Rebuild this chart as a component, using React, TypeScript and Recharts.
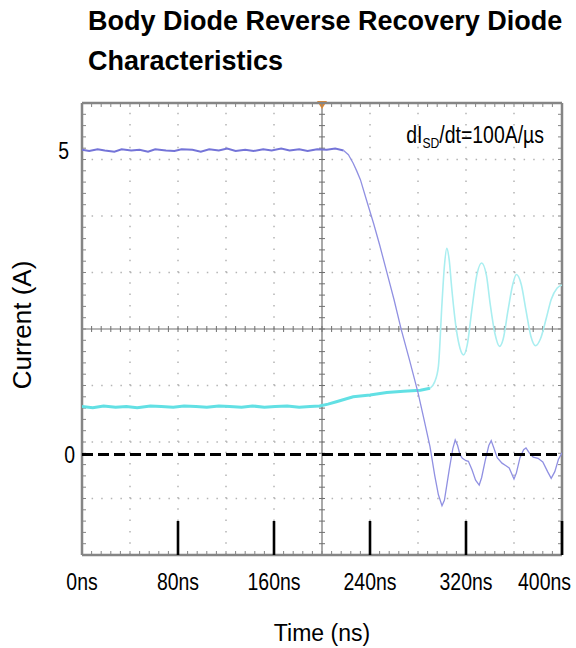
import React from 'react';
import { ComposedChart, Line, XAxis, YAxis, ReferenceLine } from 'recharts';

// ---- data (time in ns, current in A) ----
const timeTicks = [0, 80, 160, 240, 320, 400];
const currentTicks = [0, 5];
const currentDomain: [number, number] = [-1.65, 5.78];

// oscilloscope screen: 10 horizontal divisions (40 ns each), 8 vertical divisions
const timeDivisions = [0, 40, 80, 120, 160, 200, 240, 280, 320, 360, 400];
const verticalDivisionCount = 8;
const currentDivisions = Array.from(
  { length: verticalDivisionCount + 1 },
  (_, k) => currentDomain[0] + (k * (currentDomain[1] - currentDomain[0])) / verticalDivisionCount
);

const diodeCurrentFlat: [number, number][] = [
  [0, 5.01], [6, 4.99], [13, 5.02], [19, 5.0], [27, 4.98], [33, 5.02], [41, 5.0], [48, 5.01],
  [55, 4.98], [61, 5.02], [70, 5.0], [77, 4.99], [83, 5.02], [92, 5.01], [99, 4.98], [106, 5.02],
  [114, 5.0], [121, 5.03], [128, 4.99], [136, 5.01], [143, 4.99], [151, 5.02], [158, 5.0],
  [166, 5.03], [173, 5.0], [181, 5.02], [188, 4.99], [196, 5.02], [204, 5.01], [211, 5.03],
  [218, 5.0],
];
const diodeCurrentFall: [number, number][] = [
  [218, 5.0], [222, 4.93], [226, 4.79], [229, 4.66], [232, 4.52], [237, 4.19], [243, 3.8],
  [248, 3.45], [254, 3.0], [260, 2.55], [266, 2.06], [273, 1.55], [280, 1.02], [285, 0.58],
  [290, 0.13], [294, -0.35], [297, -0.66], [300, -0.84], [302, -0.75], [304, -0.5], [306, -0.25],
  [309, 0.1], [311, 0.24], [313, 0.15], [315, 0.0], [317, -0.06], [320, -0.1], [322, -0.11],
  [325, -0.25], [328, -0.42], [331, -0.5], [333, -0.38], [336, -0.1], [339, 0.15], [341, 0.23],
  [343, 0.12], [346, -0.05], [350, -0.14], [353, -0.18], [356, -0.22], [360, -0.4], [362, -0.3],
  [365, -0.05], [368, 0.08], [370, 0.11], [373, 0.02], [376, -0.04], [380, -0.06], [384, -0.12],
  [388, -0.28], [391, -0.39], [394, -0.28], [397, -0.08], [400, 0.03],
];
const cyanFlat: [number, number][] = [
  [0, 0.79], [9, 0.77], [18, 0.8], [28, 0.78], [37, 0.79], [46, 0.77], [57, 0.8], [66, 0.79],
  [76, 0.78], [85, 0.8], [95, 0.79], [104, 0.78], [114, 0.8], [123, 0.79], [133, 0.78],
  [142, 0.8], [152, 0.78], [161, 0.79], [171, 0.8], [181, 0.78], [190, 0.79], [198, 0.8],
  [205, 0.83], [212, 0.87], [219, 0.91], [226, 0.95], [240, 0.98], [254, 1.02], [268, 1.04],
  [282, 1.06], [290, 1.09],
];
const cyanRing: [number, number][] = [
  [290, 1.09], [294, 1.2], [297, 1.45], [300, 2.49], [302, 3.1], [304, 3.39], [306, 3.2],
  [308, 2.76], [312, 2.05], [315, 1.75], [318, 1.64], [321, 1.8], [325, 2.4], [329, 2.95],
  [333, 3.15], [337, 2.95], [340, 2.5], [344, 2.0], [348, 1.78], [351, 1.9], [355, 2.37],
  [359, 2.8], [362, 2.96], [366, 2.8], [370, 2.37], [374, 1.95], [378, 1.79], [382, 1.9],
  [387, 2.25], [391, 2.55], [396, 2.74], [400, 2.79],
];

const toPts = (arr: [number, number][]) => arr.map(([t, v]) => ({ t, v }));

const FONT = '"Liberation Sans", Arial, Helvetica, sans-serif';
const SQUEEZE = 0.81;

const SqText = ({ x, y, anchor, size, children }: any) => (
  <g transform={`translate(${x},${y}) scale(${SQUEEZE},1)`}>
    <text x={0} y={0} textAnchor={anchor} fontSize={size} fill="#000" fontFamily={FONT}>
      {children}
    </text>
  </g>
);

const TimeTick = (props: any) => {
  const { x, y, payload, index } = props;
  const last = index === timeTicks.length - 1;
  return (
    <g>
      {payload.value !== 0 && (
        <line x1={x} x2={x} y1={y} y2={y - 34} stroke="#000" strokeWidth={2.6} />
      )}
      <SqText x={last ? x + 9 : x} y={y + 35} anchor={last ? 'end' : 'middle'} size={24}>
        {`${payload.value}ns`}
      </SqText>
    </g>
  );
};

const CurrentTick = (props: any) => {
  const { x, y, payload } = props;
  return (
    <SqText x={payload.value === 5 ? x - 6 : x} y={y + 8.5} anchor="end" size={24}>
      {payload.value}
    </SqText>
  );
};

// scope line with minor ticks
const tickedLine =
  (n: number, len: number, side: 'both' | 'pos' | 'neg', color: string, width: number, trigger = false) =>
  (p: any) => {
    const { x1, y1, x2, y2 } = p;
    if ([x1, y1, x2, y2].some((v) => typeof v !== 'number' || isNaN(v))) return <g />;
    const horiz = Math.abs(x2 - x1) > Math.abs(y2 - y1);
    const a = side === 'neg' ? 0 : len;
    const b = side === 'pos' ? 0 : len;
    const ticks = [];
    for (let i = 1; i < n; i++) {
      const x = x1 + ((x2 - x1) * i) / n;
      const y = y1 + ((y2 - y1) * i) / n;
      ticks.push(
        horiz ? (
          <line key={i} x1={x} x2={x} y1={y - b} y2={y + a} stroke={color} strokeWidth={1} />
        ) : (
          <line key={i} x1={x - b} x2={x + a} y1={y} y2={y} stroke={color} strokeWidth={1} />
        )
      );
    }
    const top = Math.min(y1, y2);
    return (
      <g>
        <line x1={x1} y1={y1} x2={x2} y2={y2} stroke={color} strokeWidth={width} />
        {ticks}
        {trigger && (
          <polygon points={`${x1 - 5},${top - 2} ${x1 + 5},${top - 2} ${x1},${top + 6}`} fill="#e8892a" />
        )}
      </g>
    );
  };

export default function App() {
  const border = '#858585';
  const cross = '#707070';
  const dot = '#b4b4b4';
  const lastX = timeDivisions.length - 1;
  const lastY = currentDivisions.length - 1;
  const midX = lastX / 2;
  const midY = lastY / 2;
  return (
    <div style={{ position: 'absolute', left: 0, top: 0, width: 576, height: 648, background: '#fff', fontFamily: FONT }}>
      <ComposedChart width={576} height={648} margin={{ top: 103, right: 14, bottom: 63, left: 42 }}>
        <XAxis
          dataKey="t"
          type="number"
          domain={[0, 400]}
          ticks={timeTicks}
          allowDataOverflow
          axisLine={false}
          tickLine={false}
          tickSize={0}
          tickMargin={0}
          height={30}
          interval={0}
          tick={<TimeTick />}
        />
        <YAxis
          type="number"
          domain={currentDomain}
          ticks={currentTicks}
          allowDataOverflow
          axisLine={false}
          tickLine={false}
          tickSize={0}
          tickMargin={7}
          width={40}
          interval={0}
          tick={<CurrentTick />}
        />

        {timeDivisions.map((d, i) =>
          i === 0 || i === lastX || i === midX ? null : (
            <ReferenceLine key={`vx${i}`} x={d} ifOverflow="visible" stroke={dot} strokeWidth={1.5} strokeDasharray="1.5 9.8" />
          )
        )}
        {currentDivisions.map((d, i) =>
          i === 0 || i === lastY || i === midY ? null : (
            <ReferenceLine key={`hy${i}`} y={d} ifOverflow="visible" stroke={dot} strokeWidth={1.5} strokeDasharray="1.5 8.1" />
          )
        )}
        <ReferenceLine x={timeDivisions[midX]} ifOverflow="visible" shape={tickedLine(40, 3, 'both', cross, 1.2, true)} />
        <ReferenceLine y={currentDivisions[midY]} ifOverflow="visible" shape={tickedLine(50, 3, 'both', cross, 1.2)} />
        <ReferenceLine x={timeDivisions[0]} ifOverflow="visible" shape={tickedLine(40, 4, 'pos', border, 2.5)} />
        <ReferenceLine x={timeDivisions[lastX]} ifOverflow="visible" shape={tickedLine(40, 4, 'neg', border, 2.5)} />
        <ReferenceLine y={currentDivisions[lastY]} ifOverflow="visible" shape={tickedLine(50, 4, 'pos', border, 2.5)} />
        <ReferenceLine y={currentDivisions[0]} ifOverflow="visible" shape={tickedLine(50, 4, 'neg', border, 2.5)} />

        <Line data={toPts(cyanFlat)} dataKey="v" type="linear" stroke="#62e0e4" strokeWidth={3} dot={false} activeDot={false} isAnimationActive={false} />
        <Line data={toPts(cyanRing)} dataKey="v" type="monotone" stroke="#a9eef0" strokeWidth={1.6} dot={false} activeDot={false} isAnimationActive={false} />
        <Line data={toPts(diodeCurrentFlat)} dataKey="v" type="linear" stroke="#7474d8" strokeWidth={2} dot={false} activeDot={false} isAnimationActive={false} />
        <Line data={toPts(diodeCurrentFall)} dataKey="v" type="linear" stroke="#9090e2" strokeWidth={1.3} dot={false} activeDot={false} isAnimationActive={false} />

        <ReferenceLine y={0} stroke="#000" strokeWidth={3} strokeDasharray="11 5" />
      </ComposedChart>

      <svg width={576} height={648} style={{ position: 'absolute', left: 0, top: 0, pointerEvents: 'none' }}>
        <text x={88} y={30} fontSize={27} fontWeight="bold" fill="#000" fontFamily={FONT}>
          Body Diode Reverse Recovery Diode
        </text>
        <text x={88} y={70} fontSize={27} fontWeight="bold" fill="#000" fontFamily={FONT}>
          Characteristics
        </text>
        <g transform={`translate(544,143) scale(${SQUEEZE},1)`}>
          <text x={0} y={0} textAnchor="end" fontSize={24} fill="#000" fontFamily={FONT}>
            dI<tspan fontSize={15} dy={5}>SD</tspan>
            <tspan dy={-5}>/dt=100A/µs</tspan>
          </text>
        </g>
        <text x={322} y={641} textAnchor="middle" fontSize={23} fill="#000" fontFamily={FONT}>
          Time (ns)
        </text>
        <text
          transform="translate(31,325) rotate(-90)"
          x={0}
          y={0}
          textAnchor="middle"
          fontSize={26}
          fill="#000"
          fontFamily={FONT}
        >
          Current (A)
        </text>
      </svg>
    </div>
  );
}
